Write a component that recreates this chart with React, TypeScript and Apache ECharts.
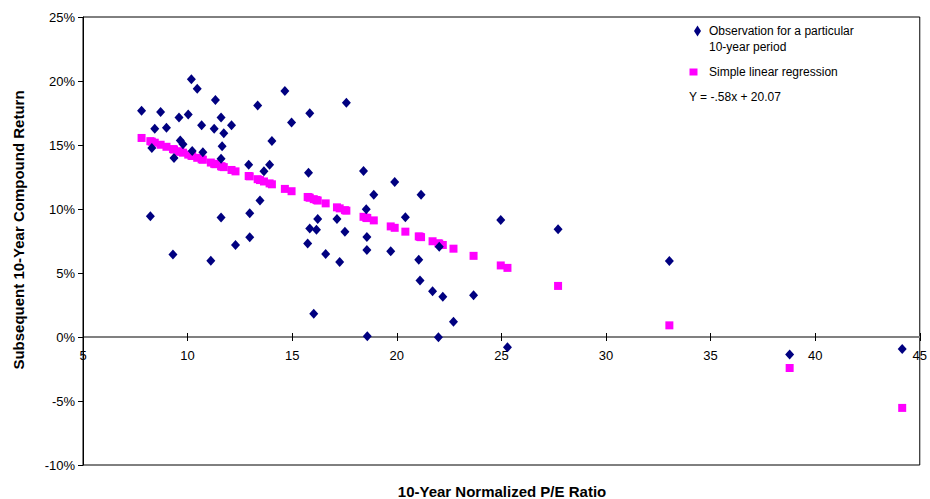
import React, { useEffect, useRef } from "react";
import * as echarts from "echarts";

// Observations: 10-year normalized P/E ratio vs. subsequent 10-year compound return (%)
const obsPE: number[] = [
  10.18, 10.46, 11.33, 14.65, 7.8, 8.71, 9.59, 10.03, 13.35, 11.6,
  14.97, 8.43, 8.99, 10.67, 11.27, 12.1, 11.73, 9.65, 9.78, 14.03,
  8.29, 11.65, 9.35, 10.73, 11.6, 12.92, 13.92, 13.65, 13.46, 10.22,
  8.22, 9.3, 11.6, 11.11, 12.97, 12.29, 12.97, 17.59, 15.84, 15.78,
  18.41, 19.9, 18.9, 21.16, 18.54, 16.22, 17.14, 20.41, 15.84, 16.16,
  17.52, 18.57, 15.74, 16.6, 17.27, 18.57, 19.71, 21.05, 21.11, 21.71,
  22.2, 23.67, 16.03, 22.71, 18.59, 21.99, 22.03, 24.97, 27.71, 25.29,
  33.03, 38.78, 44.16,
];
const obsReturn: number[] = [
  20.13, 19.4, 18.51, 19.21, 17.68, 17.57, 17.15, 17.39, 18.09, 17.15,
  16.76, 16.26, 16.34, 16.55, 16.26, 16.55, 15.92, 15.35, 15.05, 15.32,
  14.77, 14.9, 13.99, 14.43, 13.93, 13.46, 13.46, 12.94, 10.66, 14.54,
  9.43, 6.45, 9.33, 5.95, 9.67, 7.18, 7.79, 18.3, 17.49, 12.83,
  12.97, 12.1, 11.11, 11.11, 9.98, 9.22, 9.22, 9.36, 8.47, 8.38,
  8.23, 7.82, 7.31, 6.48, 5.85, 6.79, 6.69, 6.03, 4.41, 3.57,
  3.15, 3.26, 1.82, 1.19, 0.06, -0.01, 7.05, 9.14, 8.41, -0.8,
  5.93, -1.37, -0.93,
];

// Simple linear regression points
const regPE: number[] = [
  7.8, 8.22, 8.29, 8.43, 8.71, 8.99, 9.3, 9.35, 9.59, 9.65, 9.78, 10.03,
  10.18, 10.22, 10.46, 10.67, 10.73, 11.11, 11.27, 11.33, 11.6, 11.65,
  11.73, 12.1, 12.29, 12.92, 12.97, 13.35, 13.46, 13.65, 13.92, 14.03,
  14.65, 14.97, 15.74, 15.78, 15.84, 16.03, 16.16, 16.22, 16.6, 17.14,
  17.27, 17.52, 17.59, 18.41, 18.54, 18.57, 18.59, 18.9, 19.71, 19.9,
  20.41, 21.05, 21.11, 21.16, 21.71, 21.99, 22.03, 22.2, 22.71, 23.67,
  24.97, 25.29, 27.71, 33.03, 38.78, 44.16,
];
const regReturn: number[] = [
  15.55, 15.3, 15.26, 15.18, 15.02, 14.86, 14.68, 14.65, 14.51, 14.47, 14.4, 14.25,
  14.17, 14.14, 14.0, 13.88, 13.85, 13.63, 13.53, 13.5, 13.34, 13.31,
  13.27, 13.05, 12.94, 12.58, 12.55, 12.33, 12.26, 12.15, 12.0, 11.93,
  11.57, 11.39, 10.94, 10.92, 10.88, 10.77, 10.7, 10.66, 10.44, 10.13,
  10.05, 9.91, 9.87, 9.39, 9.32, 9.3, 9.29, 9.11, 8.64, 8.53,
  8.23, 7.86, 7.83, 7.8, 7.48, 7.32, 7.29, 7.19, 6.9, 6.34,
  5.59, 5.4, 3.99, 0.91, -2.42, -5.54,
];

const xTitle = "10-Year Normalized P/E Ratio";
const yTitle = "Subsequent 10-Year Compound Return";
const legendObs1 = "Observation for a particular";
const legendObs2 = "10-year period";
const legendReg = "Simple linear regression";
const equation = "Y = -.58x + 20.07";

const FONT = "'Liberation Sans', Arial, sans-serif";

export default function App() {
  const ref = useRef<HTMLDivElement>(null);

  useEffect(() => {
    if (!ref.current) return;
    const chart = echarts.init(ref.current, undefined, { renderer: "svg" });
    const obsData = obsPE.map((x, i) => [x, obsReturn[i]]);
    const regData = regPE.map((x, i) => [x, regReturn[i]]);

    const xBase = {
      type: "value" as const,
      min: 5,
      max: 45,
      interval: 5,
      offset: -128,
      position: "bottom" as const,
      splitLine: { show: false },
    };

    chart.setOption({
      animation: false,
      backgroundColor: "#ffffff",
      textStyle: { fontFamily: FONT },
      grid: {
        left: 83,
        right: 8,
        top: 17,
        bottom: 34,
        show: true,
        borderColor: "#000000",
        borderWidth: 1,
        backgroundColor: "transparent",
      },
      xAxis: [
        {
          ...xBase,
          axisLine: { show: true, onZero: false, lineStyle: { color: "#808080", width: 2 } },
          axisTick: { show: true, inside: false, length: 4, lineStyle: { color: "#000000", width: 1 } },
          axisLabel: { color: "#000000", fontSize: 13, fontFamily: FONT, margin: 12 },
        },
        {
          ...xBase,
          axisLine: { show: false, onZero: false },
          axisTick: { show: true, inside: true, length: 4, lineStyle: { color: "#000000", width: 1 } },
          axisLabel: { show: false },
        },
      ],
      yAxis: {
        type: "value",
        min: -10,
        max: 25,
        interval: 5,
        splitLine: { show: false },
        axisLine: { show: true, onZero: false, lineStyle: { color: "#000000", width: 1 } },
        axisTick: { show: true, inside: false, length: 5, lineStyle: { color: "#000000" } },
        axisLabel: { color: "#000000", fontSize: 13, fontFamily: FONT, margin: 8, formatter: "{value}%" },
      },
      series: [
        {
          name: legendReg,
          type: "scatter",
          xAxisIndex: 0,
          data: regData,
          symbol: "rect",
          symbolSize: 8,
          itemStyle: { color: "#ff00ff", opacity: 1 },
          z: 2,
        },
        {
          name: legendObs1,
          type: "scatter",
          xAxisIndex: 0,
          data: obsData,
          symbol: "diamond",
          symbolSize: [9, 10],
          itemStyle: { color: "#000080", opacity: 1 },
          z: 3,
        },
      ],
      graphic: [
        {
          type: "text",
          x: 18,
          y: 230,
          rotation: Math.PI / 2,
          style: {
            text: yTitle,
            font: `bold 15px ${FONT}`,
            fill: "#000000",
            textAlign: "center",
            textVerticalAlign: "middle",
          },
        },
        {
          type: "text",
          x: 502,
          y: 491,
          style: {
            text: xTitle,
            font: `bold 15px ${FONT}`,
            fill: "#000000",
            textAlign: "center",
            textVerticalAlign: "middle",
          },
        },
        {
          type: "polygon",
          shape: { points: [[697.5, 25.5], [701, 31], [697.5, 36.5], [694, 31]] },
          style: { fill: "#000080" },
        },
        {
          type: "text",
          x: 709,
          y: 31,
          style: { text: legendObs1, font: `12px ${FONT}`, fill: "#000000", textVerticalAlign: "middle" },
        },
        {
          type: "text",
          x: 709,
          y: 47,
          style: { text: legendObs2, font: `12px ${FONT}`, fill: "#000000", textVerticalAlign: "middle" },
        },
        {
          type: "rect",
          shape: { x: 689.5, y: 68.5, width: 8, height: 7 },
          style: { fill: "#ff00ff" },
        },
        {
          type: "text",
          x: 709,
          y: 72,
          style: { text: legendReg, font: `12px ${FONT}`, fill: "#000000", textVerticalAlign: "middle" },
        },
        {
          type: "text",
          x: 689,
          y: 97,
          style: { text: equation, font: `12px ${FONT}`, fill: "#000000", textVerticalAlign: "middle" },
        },
      ],
    });

    return () => chart.dispose();
  }, []);

  return <div ref={ref} style={{ width: 930, height: 499, position: "absolute", left: 0, top: 0 }} />;
}
